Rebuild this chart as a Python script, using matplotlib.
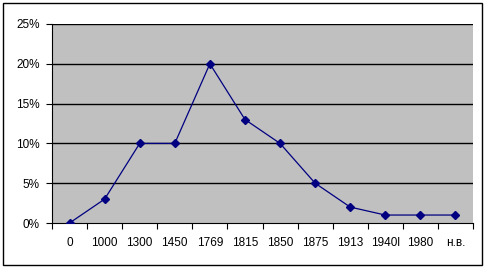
import matplotlib
matplotlib.use("Agg")
import matplotlib.pyplot as plt
from matplotlib.ticker import FixedLocator, FuncFormatter
from matplotlib.patches import Rectangle

categories = ["0", "1000", "1300", "1450", "1769", "1815", "1850", "1875", "1913", "1940l", "1980", "н.в."]
values = [0, 3, 10, 10, 20, 13, 10, 5, 2, 1, 1, 1]

plt.rcParams['font.family'] = ['Liberation Sans', 'DejaVu Sans']

fig = plt.figure(figsize=(4.85, 2.69), dpi=100)
ax = fig.add_axes([52/485, 1-223/269, 421/485, 199/269])
ax.set_facecolor('#C0C0C0')

x = list(range(len(categories)))
ax.plot(x, values, color='#000080', linewidth=0.9, marker='D', markersize=4,
        markerfacecolor='#000080', markeredgecolor='#000080', zorder=3)

ax.set_xlim(-0.5, len(categories) - 0.5)
ax.set_ylim(0, 25)
ax.set_yticks([0, 5, 10, 15, 20, 25])
ax.yaxis.set_major_formatter(FuncFormatter(lambda v, p: f"{int(v)}%"))
for yv in [5, 10, 15, 20, 25]:
    ax.axhline(yv, color='black', linewidth=1.0, zorder=1)

ax.xaxis.set_major_locator(FixedLocator([i - 0.5 for i in range(len(categories) + 1)]))
ax.xaxis.set_major_formatter(FuncFormatter(lambda v, p: ""))
ax.xaxis.set_minor_locator(FixedLocator(x))
ax.set_xticklabels(categories, minor=True)
ax.tick_params(axis='x', which='minor', length=0, pad=10, labelsize=8.5)
ax.tick_params(axis='x', which='major', length=4, width=0.8, direction='out')
ax.tick_params(axis='y', length=4, width=0.8, direction='out', labelsize=8.5, pad=5)

for s in ['top', 'right']:
    ax.spines[s].set_visible(False)
ax.spines['left'].set_linewidth(0.8)
ax.spines['bottom'].set_linewidth(0.8)

fig.patches.append(Rectangle((3/485, 1-265/269), 479/485, 262/269, transform=fig.transFigure,
                             fill=False, edgecolor='black', linewidth=1.0))

fig.savefig("out.png", dpi=100)
